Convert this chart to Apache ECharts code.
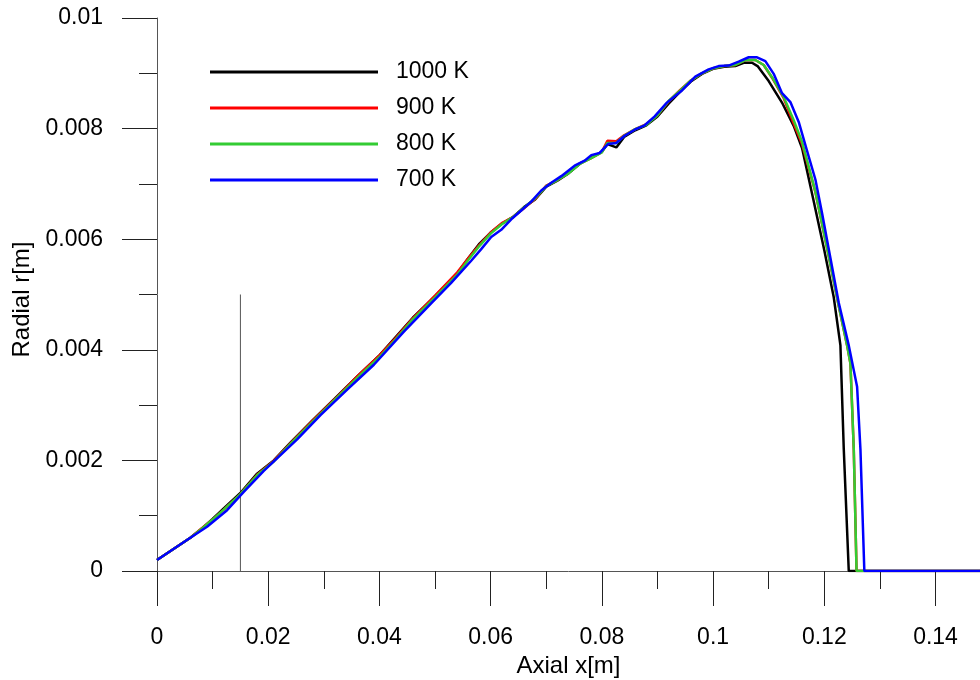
<!DOCTYPE html>
<html>
<head>
<meta charset="utf-8">
<script src="https://cdn.jsdelivr.net/npm/echarts@6/dist/echarts.min.js"></script>
<style>
  html, body { margin: 0; padding: 0; background: #fff; }
  #chart { width: 980px; height: 680px; }
</style>
</head>
<body>
<div id="chart"></div>
<script>
let seriesNames = ['1000 K', '900 K', '800 K', '700 K']
let seriesColors = ['#000000', '#ff0000', '#33cc33', '#0000ff']

let xMajorTicks = [0, 0.02, 0.04, 0.06, 0.08, 0.1, 0.12, 0.14]
let xMinorTicks = [0.01, 0.03, 0.05, 0.07, 0.09, 0.11, 0.13]

// thin reference line
let refLineX = [0.015, 0.015]
let refLineY = [0, 0.005]

let k1000X = [0, 0.006, 0.008, 0.010, 0.012, 0.015, 0.018, 0.021, 0.024, 0.028, 0.032, 0.036, 0.040, 0.043, 0.046, 0.050, 0.054, 0.056, 0.058, 0.060, 0.062, 0.064, 0.066, 0.068, 0.070, 0.072, 0.074, 0.076, 0.078, 0.080, 0.081, 0.0826, 0.084, 0.086, 0.088, 0.090, 0.092, 0.094, 0.096, 0.098, 0.100, 0.102, 0.104, 0.1055, 0.107, 0.108, 0.110, 0.1125, 0.1145, 0.116, 0.118, 0.120, 0.1217, 0.1229, 0.1235, 0.1244, 0.148]
let k1000Y = [0.0002, 0.0006, 0.00076, 0.00094, 0.00113, 0.00141, 0.00176, 0.0020, 0.00232, 0.00273, 0.00312, 0.00352, 0.0039, 0.00424, 0.00458, 0.00497, 0.00538, 0.00566, 0.00592, 0.00612, 0.00628, 0.0064, 0.00658, 0.00672, 0.00695, 0.00706, 0.00719, 0.00736, 0.00747, 0.00758, 0.00772, 0.00766, 0.00785, 0.00797, 0.00806, 0.00822, 0.00845, 0.00866, 0.00885, 0.00899, 0.00908, 0.00912, 0.00913, 0.00919, 0.00919, 0.00913, 0.00886, 0.00845, 0.00805, 0.00765, 0.00673, 0.0058, 0.00495, 0.00408, 0.00221, 0, 0]

let k900X = [0, 0.006, 0.008, 0.010, 0.012, 0.015, 0.018, 0.021, 0.024, 0.028, 0.032, 0.036, 0.040, 0.043, 0.046, 0.050, 0.054, 0.056, 0.058, 0.060, 0.062, 0.064, 0.066, 0.068, 0.070, 0.072, 0.074, 0.076, 0.078, 0.080, 0.081, 0.0826, 0.084, 0.086, 0.088, 0.090, 0.092, 0.094, 0.096, 0.098, 0.100, 0.102, 0.104, 0.1058, 0.1076, 0.1091, 0.1106, 0.1127, 0.1145, 0.116, 0.1184, 0.1208, 0.1226, 0.1241, 0.1247, 0.1253, 0.1258, 0.148]
let k900Y = [0.0002, 0.0006, 0.00077, 0.00093, 0.00111, 0.00139, 0.00174, 0.00199, 0.00231, 0.00272, 0.00311, 0.00352, 0.0039, 0.00422, 0.00457, 0.00498, 0.0054, 0.00566, 0.0059, 0.00612, 0.00629, 0.0064, 0.00656, 0.00673, 0.00697, 0.00707, 0.0072, 0.00737, 0.00746, 0.00758, 0.00778, 0.00777, 0.00788, 0.00799, 0.00808, 0.00824, 0.00849, 0.00869, 0.00887, 0.009, 0.00909, 0.00913, 0.00915, 0.00924, 0.00924, 0.00915, 0.00892, 0.00855, 0.00809, 0.00772, 0.00685, 0.00569, 0.00479, 0.00408, 0.00375, 0.0022, 0, 0]

let k800X = [0, 0.006, 0.008, 0.010, 0.012, 0.015, 0.018, 0.021, 0.024, 0.028, 0.032, 0.036, 0.040, 0.043, 0.046, 0.050, 0.054, 0.056, 0.058, 0.060, 0.062, 0.064, 0.066, 0.068, 0.070, 0.072, 0.074, 0.076, 0.078, 0.080, 0.081, 0.0826, 0.084, 0.086, 0.088, 0.090, 0.092, 0.094, 0.096, 0.098, 0.100, 0.102, 0.104, 0.1058, 0.1076, 0.1091, 0.1106, 0.1127, 0.1145, 0.116, 0.1184, 0.1208, 0.1226, 0.1241, 0.1247, 0.1253, 0.1258, 0.148]
let k800Y = [0.0002, 0.0006, 0.00076, 0.00093, 0.00111, 0.00139, 0.00173, 0.00198, 0.0023, 0.0027, 0.0031, 0.00349, 0.00387, 0.0042, 0.00455, 0.00495, 0.00536, 0.00563, 0.00588, 0.0061, 0.00627, 0.0064, 0.00657, 0.00674, 0.00696, 0.00707, 0.00719, 0.00736, 0.00746, 0.00757, 0.00774, 0.00774, 0.00787, 0.00799, 0.00807, 0.00824, 0.0085, 0.00868, 0.00887, 0.009, 0.00909, 0.00913, 0.00915, 0.00924, 0.00924, 0.00915, 0.00893, 0.00857, 0.00815, 0.00776, 0.00686, 0.00569, 0.00479, 0.00408, 0.00375, 0.0022, 0, 0]

let k700X = [0, 0.006, 0.009, 0.0126, 0.0156, 0.0192, 0.0252, 0.0294, 0.0342, 0.039, 0.0444, 0.0493, 0.0529, 0.0565, 0.0583, 0.0601, 0.0619, 0.0637, 0.0655, 0.0673, 0.0691, 0.0709, 0.0727, 0.0751, 0.0769, 0.0781, 0.0796, 0.0811, 0.0826, 0.0841, 0.0859, 0.0877, 0.0895, 0.0917, 0.0944, 0.0968, 0.0992, 0.101, 0.1028, 0.1046, 0.1064, 0.1079, 0.1094, 0.1109, 0.1124, 0.1139, 0.1154, 0.1166, 0.1184, 0.1196, 0.1211, 0.1226, 0.1244, 0.1259, 0.1265, 0.1272, 0.148]
let k700Y = [0.0002, 0.0006, 0.0008, 0.0011, 0.00143, 0.00181, 0.00238, 0.00282, 0.00328, 0.00373, 0.00433, 0.00484, 0.00521, 0.00561, 0.00582, 0.00604, 0.00617, 0.00636, 0.00652, 0.00668, 0.00688, 0.00702, 0.00714, 0.00733, 0.00742, 0.00752, 0.00756, 0.00772, 0.00774, 0.00787, 0.00798, 0.00806, 0.00822, 0.00847, 0.00869, 0.00894, 0.00907, 0.00913, 0.00914, 0.00921, 0.00929, 0.00929, 0.00922, 0.00899, 0.00864, 0.00848, 0.00812, 0.0077, 0.00708, 0.00647, 0.00566, 0.00485, 0.00408, 0.00333, 0.0022, 0, 0]

let allX = [k1000X, k900X, k800X, k700X]
let allY = [k1000Y, k900Y, k800Y, k700Y]

function pairs (xs, ys) {
  return xs.map(function (x, i) { return [x, ys[i]] })
}

let font = 'Liberation Sans, Arial, sans-serif'
let myChart = echarts.init(document.getElementById('chart'))

let series = [{
  name: 'ref',
  type: 'line',
  silent: true,
  symbol: 'none',
  lineStyle: { color: '#555', width: 1 },
  data: pairs(refLineX, refLineY)
}]
seriesNames.forEach(function (name, i) {
  series.push({
    name: name,
    type: 'line',
    symbol: 'none',
    color: seriesColors[i],
    lineStyle: { color: seriesColors[i], width: 2.5 },
    data: pairs(allX[i], allY[i])
  })
})

let option = {
  animation: false,
  backgroundColor: '#fff',
  grid: {
    left: 157,
    right: 0,
    top: 18,
    bottom: 109,
    outerBoundsMode: 'none'
  },
  legend: {
    orient: 'vertical',
    left: 205,
    top: 49,
    data: seriesNames,
    icon: 'rect',
    itemWidth: 168,
    itemHeight: 3,
    itemGap: 0,
    textStyle: {
      fontFamily: font,
      fontSize: 23,
      color: '#000',
      lineHeight: 36,
      padding: [0, 0, 0, 13]
    }
  },
  xAxis: [{
    type: 'value',
    position: 'bottom',
    min: 0,
    max: 0.148,
    name: 'Axial x[m]',
    nameLocation: 'middle',
    nameGap: 80,
    nameTextStyle: { fontFamily: font, fontSize: 24, color: '#000' },
    axisLine: { onZero: false, lineStyle: { color: '#555', width: 1 } },
    axisTick: { customValues: xMajorTicks, length: 35, lineStyle: { color: '#222' } },
    axisLabel: { customValues: xMajorTicks, margin: 55, fontFamily: font, fontSize: 23, color: '#000' },
    splitLine: { show: false }
  }, {
    type: 'value',
    position: 'bottom',
    min: 0,
    max: 0.148,
    axisLine: { show: false },
    axisTick: { customValues: xMinorTicks, length: 18, lineStyle: { color: '#222' } },
    axisLabel: { show: false },
    splitLine: { show: false }
  }],
  yAxis: {
    type: 'value',
    min: 0,
    max: 0.01,
    interval: 0.002,
    name: 'Radial r[m]',
    nameLocation: 'middle',
    nameGap: 120,
    nameTextStyle: { fontFamily: font, fontSize: 24, color: '#000', padding: [0, 10, 0, 0] },
    axisLine: { show: true, onZero: false, lineStyle: { color: '#555', width: 1 } },
    axisTick: { show: true, length: 35, lineStyle: { color: '#222' } },
    minorTick: { show: true, splitNumber: 2, length: 18, lineStyle: { color: '#222' } },
    axisLabel: { margin: 54, fontFamily: font, fontSize: 23, color: '#000' },
    splitLine: { show: false }
  },
  series: series
}
myChart.setOption(option, true)
</script>
</body>
</html>
